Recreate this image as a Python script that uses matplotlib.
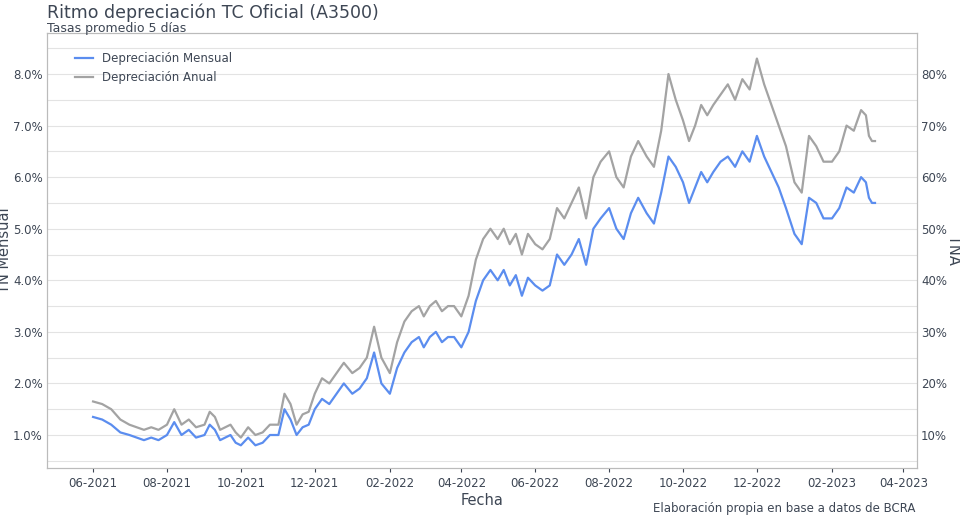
import matplotlib
matplotlib.use("Agg")
import matplotlib.pyplot as plt
import matplotlib.dates as mdates
import matplotlib.ticker as mt
import numpy as np
import pandas as pd

months = ["2021-06","2021-07","2021-08","2021-09","2021-10","2021-11","2021-12",
          "2022-01","2022-02","2022-03","2022-04","2022-05","2022-06","2022-07",
          "2022-08","2022-09","2022-10","2022-11","2022-12","2023-01","2023-02","2023-03"]
mensual = [
 [1.35,1.3,1.2,1.05],
 [1.0,0.95,0.9,0.95,0.9],
 [1.0,1.25,1.0,1.1,0.95],
 [1.0,1.2,1.1,0.9,0.95,1.0,0.85],
 [0.8,0.95,0.8,0.85,1.0],
 [1.0,1.5,1.3,1.0,1.15,1.2],
 [1.5,1.7,1.6,1.8,2.0],
 [1.8,1.9,2.1,2.6,2.0],
 [1.8,2.3,2.6,2.8,2.9],
 [2.7,2.9,3.0,2.8,2.9,2.9],
 [2.7,3.0,3.6,4.0,4.2],
 [4.0,4.2,3.9,4.1,3.7,4.05],
 [3.9,3.8,3.9,4.5,4.3],
 [4.5,4.8,4.3,5.0,5.2],
 [5.4,5.0,4.8,5.3,5.6],
 [5.3,5.1,5.7,6.4,6.2],
 [5.9,5.5,5.8,6.1,5.9,6.1],
 [6.3,6.4,6.2,6.5,6.3],
 [6.8,6.4,6.1,5.8,5.4],
 [4.9,4.7,5.6,5.5,5.2],
 [5.2,5.4,5.8,5.7,6.0],
 [5.9,5.6,5.5,5.5],
]
anual = [
 [16.5,16,15,13],
 [12,11.5,11,11.5,11],
 [12,15,12,13,11.5],
 [12,14.5,13.5,11,11.5,12,10.5],
 [9.5,11.5,10,10.5,12],
 [12,18,16,12,14,14.5],
 [18,21,20,22,24],
 [22,23,25,31,25],
 [22,28,32,34,35],
 [33,35,36,34,35,35],
 [33,37,44,48,50],
 [48,50,47,49,45,49],
 [47,46,48,54,52],
 [55,58,52,60,63],
 [65,60,58,64,67],
 [64,62,69,80,75],
 [71,67,70,74,72,74],
 [76,78,75,79,77],
 [83,78,74,70,66],
 [59,57,68,66,63],
 [63,65,70,69,73],
 [72,68,67,67],
]

dates, m_vals, a_vals = [], [], []
for mo, mv, av in zip(months, mensual, anual):
    start = pd.Timestamp(mo + "-01")
    n = len(mv)
    span = 30 if mo != "2023-03" else 10
    for i in range(n):
        dates.append(start + pd.Timedelta(days=span * i / n))
    m_vals += mv
    a_vals += av

txt = "#3d4654"
fig = plt.figure(figsize=(9.6, 5.2), dpi=100)
ax = fig.add_axes([0.049, 0.1, 0.906, 0.837])
ax2 = ax.twinx()
l1, = ax.plot(dates, m_vals, color="#5b8def", lw=1.6, label="Depreciación Mensual")
l2, = ax2.plot(dates, a_vals, color="#a3a3a3", lw=1.6, label="Depreciación Anual")
lo, hi = 0.36, 8.8
ax.set_ylim(lo, hi)
ax2.set_ylim(lo * 10, hi * 10)
ax.set_xlim(pd.Timestamp("2021-04-24"), pd.Timestamp("2023-04-12"))
ax.xaxis.set_major_locator(mdates.MonthLocator(bymonth=[2,4,6,8,10,12]))
ax.xaxis.set_major_formatter(mdates.DateFormatter("%m-%Y"))
ax.yaxis.set_major_locator(mt.MultipleLocator(1))
ax.yaxis.set_minor_locator(mt.MultipleLocator(0.5))
ax.yaxis.set_major_formatter(mt.FuncFormatter(lambda v, p: f"{v:.1f}%"))
ax2.yaxis.set_major_locator(mt.MultipleLocator(10))
ax2.yaxis.set_major_formatter(mt.FuncFormatter(lambda v, p: f"{v:.0f}%"))
ax.grid(axis="y", which="both", color="#e3e3e3", lw=0.8)
ax.set_axisbelow(True)
for a in (ax, ax2):
    a.tick_params(colors=txt, labelsize=8.5, length=3)
    a.tick_params(axis="y", which="both", length=0, pad=3)
    for s in a.spines.values():
        s.set_color("#bbbbbb")
        s.set_linewidth(0.8)
ax.set_xlabel("Fecha", color=txt, fontsize=10.5, labelpad=2)
ax.set_ylabel("TN Mensual", color=txt, fontsize=10.5, labelpad=1)
ax2.set_ylabel("TNA", color=txt, fontsize=10.5, rotation=-90, labelpad=10)
ax.legend(handles=[l1, l2], loc="upper left", frameon=False, fontsize=8.5,
          labelcolor=txt, bbox_to_anchor=(0.02, 0.98), handlelength=1.5)
fig.text(0.049, 0.958, "Ritmo depreciación TC Oficial (A3500)", fontsize=12.5, color=txt, va="bottom")
fig.text(0.049, 0.932, "Tasas promedio 5 días", fontsize=9, color=txt, va="bottom")
fig.text(0.953, 0.01, "Elaboración propia en base a datos de BCRA", fontsize=8.5, color=txt, ha="right", va="bottom")
fig.savefig("out.png", dpi=100)
